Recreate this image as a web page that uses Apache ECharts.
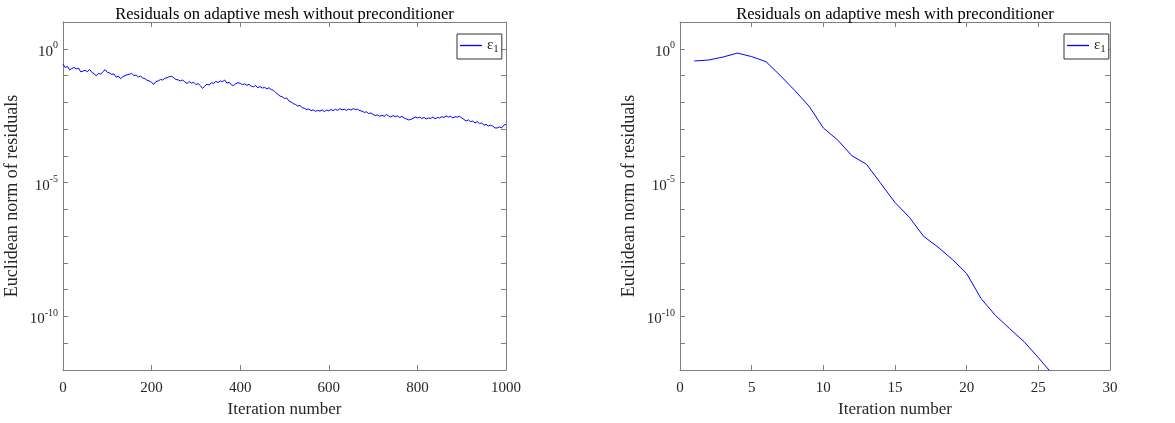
<!DOCTYPE html>
<html>
<head>
<meta charset="utf-8">
<script src="https://cdn.jsdelivr.net/npm/echarts@6/dist/echarts.min.js"></script>
<style>
  html, body { margin: 0; padding: 0; background: #fff; }
  #chart { width: 1175px; height: 423px; }
</style>
</head>
<body>
<div id="chart"></div>
<script>
// left panel: iteration numbers (sampled every 5) and residual norms
const iterLeft = [
  0, 5, 10, 15, 20, 25, 30, 35, 40, 45, 50, 55, 60, 65, 70, 75, 80, 85, 90, 95,
  100, 105, 110, 115, 120, 125, 130, 135, 140, 145, 150, 155, 160, 165, 170, 175, 180, 185, 190, 195,
  200, 205, 210, 215, 220, 225, 230, 235, 240, 245, 250, 255, 260, 265, 270, 275, 280, 285, 290, 295,
  300, 305, 310, 315, 320, 325, 330, 335, 340, 345, 350, 355, 360, 365, 370, 375, 380, 385, 390, 395,
  400, 405, 410, 415, 420, 425, 430, 435, 440, 445, 450, 455, 460, 465, 470, 475, 480, 485, 490, 495,
  500, 505, 510, 515, 520, 525, 530, 535, 540, 545, 550, 555, 560, 565, 570, 575, 580, 585, 590, 595,
  600, 605, 610, 615, 620, 625, 630, 635, 640, 645, 650, 655, 660, 665, 670, 675, 680, 685, 690, 695,
  700, 705, 710, 715, 720, 725, 730, 735, 740, 745, 750, 755, 760, 765, 770, 775, 780, 785, 790, 795,
  800, 805, 810, 815, 820, 825, 830, 835, 840, 845, 850, 855, 860, 865, 870, 875, 880, 885, 890, 895,
  900, 905, 910, 915, 920, 925, 930, 935, 940, 945, 950, 955, 960, 965, 970, 975, 980, 985, 990, 995,
  1000
];
const resLeft = [
  0.263, 0.200, 0.219, 0.162, 0.182, 0.200, 0.178, 0.191, 0.138, 0.145, 0.158, 0.138, 0.170, 0.132, 0.117, 0.098, 0.120, 0.112, 0.138, 0.166,
  0.132, 0.126, 0.110, 0.115, 0.087, 0.095, 0.076, 0.091, 0.100, 0.107, 0.112, 0.120, 0.100, 0.105, 0.089, 0.095, 0.081, 0.076, 0.066, 0.063,
  0.055, 0.047, 0.060, 0.063, 0.071, 0.068, 0.079, 0.083, 0.091, 0.093, 0.083, 0.071, 0.069, 0.063, 0.068, 0.058, 0.050, 0.060, 0.052, 0.056,
  0.046, 0.050, 0.042, 0.033, 0.040, 0.048, 0.044, 0.054, 0.051, 0.060, 0.055, 0.063, 0.059, 0.068, 0.052, 0.056, 0.045, 0.042, 0.050, 0.054,
  0.051, 0.046, 0.049, 0.043, 0.047, 0.040, 0.038, 0.042, 0.035, 0.039, 0.034, 0.036, 0.032, 0.035, 0.030, 0.028, 0.023, 0.020, 0.017, 0.016,
  0.014, 0.0145, 0.0112, 0.0102, 0.0089, 0.0083, 0.0072, 0.0076, 0.0063, 0.0060, 0.0054, 0.0056, 0.0049, 0.0052, 0.0046, 0.0050, 0.0047, 0.0052, 0.0045, 0.0051,
  0.0048, 0.0054, 0.0049, 0.0055, 0.0050, 0.0058, 0.0052, 0.0055, 0.0050, 0.0056, 0.0051, 0.0058, 0.0054, 0.0055, 0.0049, 0.0047, 0.0042, 0.0044, 0.0038, 0.0040,
  0.0035, 0.0032, 0.0034, 0.0030, 0.0033, 0.0030, 0.0035, 0.0031, 0.0028, 0.0032, 0.0029, 0.0031, 0.0027, 0.0030, 0.0026, 0.0024, 0.0022, 0.0023, 0.0025, 0.0028,
  0.0026, 0.0028, 0.0025, 0.0027, 0.0024, 0.0026, 0.0025, 0.0028, 0.0024, 0.0027, 0.0026, 0.0029, 0.0027, 0.0031, 0.0028, 0.0030, 0.0026, 0.0029, 0.0028, 0.0030,
  0.0026, 0.0023, 0.0020, 0.0022, 0.0019, 0.0020, 0.0017, 0.0019, 0.0016, 0.0017, 0.0014, 0.0015, 0.0013, 0.0014, 0.0013, 0.0011, 0.0011, 0.0012, 0.0011, 0.0014,
  0.0015
];

// right panel
const iterRight = [1, 2, 3, 4, 5, 6, 7, 8, 9, 10, 11, 12, 13, 14, 15, 16, 17, 18, 19, 20, 21, 22, 23, 24, 25, 26];
const resRight = [
  0.35, 0.38, 0.49, 0.69, 0.51, 0.33, 0.10, 0.028, 0.0072, 0.0011,
  3.9e-4, 1.0e-4, 4.9e-5, 9.5e-6, 1.8e-6, 5.1e-7, 9.8e-8, 3.9e-8, 1.35e-8, 4.0e-9,
  4.7e-10, 1.1e-10, 3.5e-11, 1.15e-11, 2.9e-12, 6.9e-13
];

const titles = ['Residuals on adaptive mesh without preconditioner', 'Residuals on adaptive mesh with preconditioner'];
const xTitle = 'Iteration number';
const yTitle = 'Euclidean norm of residuals';
const legendName = 'ε1';

const font = '"Liberation Serif", "DejaVu Serif", serif';
const axisGray = '#808080';
const textDark = '#262626';

// grid boxes in px
const grids = [
  { left: 63, right: 669, top: 22, bottom: 52 },
  { left: 680, right: 65, top: 22, bottom: 52 }
];

// box on all four sides, ticks pointing inward (MATLAB "box on")
const boxLine = { show: true, onZero: false, lineStyle: { color: axisGray, width: 1 } };
const boxTick = { show: true, inside: true, length: 5, lineStyle: { color: axisGray } };

function makeXAxes(gridIndex, max, interval) {
  const base = {
    type: 'value', gridIndex, min: 0, max, interval,
    axisLine: boxLine, axisTick: boxTick, splitLine: { show: false }
  };
  return [
    Object.assign({}, base, {
      position: 'bottom',
      name: xTitle, nameLocation: 'middle', nameGap: 31,
      nameTextStyle: { fontFamily: font, fontSize: 17, color: textDark },
      axisLabel: { fontFamily: font, fontSize: 15, color: textDark, margin: 11,
        formatter: v => String(v) }
    }),
    Object.assign({}, base, { position: 'top', axisLabel: { show: false } })
  ];
}

function makeYAxes(gridIndex) {
  const base = {
    type: 'log', logBase: 10, gridIndex, min: 1e-12, max: 10, interval: 1,
    axisLine: boxLine, axisTick: boxTick,
    minorTick: { show: false }, splitLine: { show: false }
  };
  return [
    Object.assign({}, base, {
      position: 'left',
      name: yTitle, nameLocation: 'middle', nameGap: 42,
      nameTextStyle: { fontFamily: font, fontSize: 18, color: textDark },
      axisLabel: {
        margin: 5,
        fontFamily: font, fontSize: 15, color: textDark,
        formatter: function (v) {
          const e = Math.round(Math.log10(v));
          if (e % 5 !== 0) return '';
          return '{b|10}{sup|' + (e === 0 ? 0 : e) + '}';
        },
        rich: {
          b: { fontFamily: font, fontSize: 15, color: textDark, padding: [6, 0, 0, 0] },
          sup: { fontFamily: font, fontSize: 10, color: textDark, padding: [0, 0, 7, 0] }
        }
      }
    }),
    Object.assign({}, base, { position: 'right', axisLabel: { show: false } })
  ];
}

function makeLegend(left) {
  return {
    data: [legendName],
    left, top: 34,
    padding: [4, 3, 4, 3],
    icon: 'rect',
    itemWidth: 22, itemHeight: 1.3, itemGap: 0,
    borderColor: '#333', borderWidth: 1,
    backgroundColor: '#fff',
    formatter: function () { return 'ε{sub|1}'; },
    textStyle: {
      fontFamily: font, fontSize: 15, color: textDark,
      rich: { sub: { fontFamily: font, fontSize: 11, color: textDark, padding: [8, 0, 0, 0] } }
    }
  };
}

const chart = echarts.init(document.getElementById('chart'));
chart.setOption({
  animation: false,
  backgroundColor: '#fff',
  title: [
    { text: titles[0], left: 279.5, top: 1, textAlign: 'center',
      textStyle: { fontFamily: font, fontSize: 16.5, fontWeight: 'normal', color: '#000' } },
    { text: titles[1], left: 890, top: 1, textAlign: 'center',
      textStyle: { fontFamily: font, fontSize: 16.5, fontWeight: 'normal', color: '#000' } }
  ],
  legend: [makeLegend(457), makeLegend(1064)],
  grid: grids,
  xAxis: makeXAxes(0, 1000, 200).concat(makeXAxes(1, 30, 5)),
  yAxis: makeYAxes(0).concat(makeYAxes(1)),
  series: [
    {
      name: legendName, type: 'line', xAxisIndex: 0, yAxisIndex: 0,
      data: iterLeft.map((it, i) => [it, resLeft[i]]),
      symbol: 'none', lineStyle: { color: '#0000ff', width: 1 }, itemStyle: { color: '#0000ff' }
    },
    {
      name: legendName, type: 'line', xAxisIndex: 2, yAxisIndex: 2,
      data: iterRight.map((it, i) => [it, resRight[i]]),
      symbol: 'none', lineStyle: { color: '#0000ff', width: 1 }, itemStyle: { color: '#0000ff' }
    }
  ]
});
</script>
</body>
</html>
